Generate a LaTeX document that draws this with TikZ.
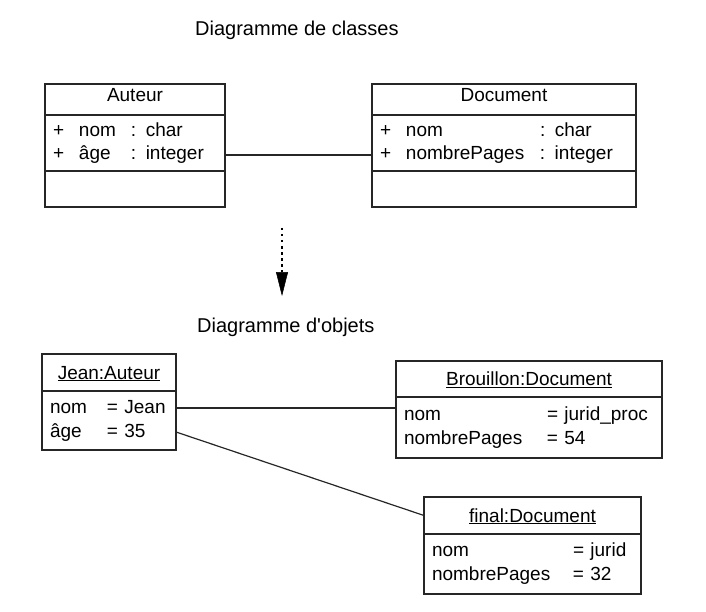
\documentclass[tikz,border=0pt]{standalone}
\usepackage{fontspec}
\setmainfont{Liberation Sans}
\usetikzlibrary{positioning,arrows.meta}

\newcommand{\classrow}[3]{\makebox[26pt][l]{+}\makebox[#1][l]{#2}: #3}
\newcommand{\objrow}[3]{\makebox[#1][l]{#2}= #3}

\tikzstyle{box} = [draw=black!85, line width=1.2pt, rectangle, outer sep=0pt, inner ysep=0pt]
\tikzstyle{classhead} = [box, text height=10pt, text depth=5pt, minimum height=31pt]
\tikzstyle{classattr} = [box, inner xsep=8pt, align=left, minimum height=56pt]
\tikzstyle{classops} = [box, minimum height=36pt]
\tikzstyle{objhead} = [box, text height=18pt, text depth=5pt]
\tikzstyle{objattr} = [box, inner xsep=8pt, align=left, font=\fontsize{19}{24}\selectfont]
\tikzstyle{title} = [anchor=base west, inner sep=0pt, font=\fontsize{20}{24}\selectfont]
\tikzstyle{link} = [line width=1.2pt, draw=black!85]
\tikzstyle{arrow} = [line width=2.5pt, dash pattern=on 2.5pt off 3.5pt, -{Triangle[length=24pt,width=12pt,line width=0.5pt]}]

\begin{document}
\begin{tikzpicture}[x=1pt, y=-1pt, font=\fontsize{19}{23}\selectfont]
\useasboundingbox (0,0) rectangle (706,612);

% Class diagram
\node (title1) [title] at (195,36) {Diagramme de classes};

\node (auteur) [classhead, minimum width=180pt, anchor=north west] at (45,84) {Auteur};
\node (auteurattr) [classattr, text width=164pt, below=0pt of auteur] {\classrow{52pt}{nom}{char}\\ \classrow{52pt}{âge}{integer}};
\node (auteurops) [classops, minimum width=180pt, below=0pt of auteurattr] {};

\node (document) [classhead, minimum width=264pt, anchor=north west] at (372,84) {Document};
\node (documentattr) [classattr, text width=248pt, below=0pt of document] {\classrow{134pt}{nom}{char}\\ \classrow{134pt}{nombrePages}{integer}};
\node (documentops) [classops, minimum width=264pt, below=0pt of documentattr] {};

\draw [link] ([yshift=-12pt]auteurattr.east) coordinate (c1) -- (c1 -| documentattr.west);

% Arrow
\coordinate (arrowtop) at (282,228);
\coordinate (arrowtip) at (282,296);
\draw [arrow] (arrowtop) -- (arrowtip);

% Object diagram
\node (title2) [title] at (197,332) {Diagramme d\textquotesingle objets};

\node (jean) [objhead, minimum width=134pt, minimum height=37pt, anchor=north west] at (42,354) {\underline{Jean:Auteur}};
\node (jeanattr) [objattr, text width=118pt, minimum height=59pt, below=0pt of jean] {\objrow{57pt}{nom}{Jean}\\ \objrow{57pt}{âge}{35}};

\node (brouillon) [objhead, minimum width=266pt, minimum height=36pt, anchor=north west] at (396,361) {\underline{Brouillon:Document}};
\node (brouillonattr) [objattr, text width=250pt, minimum height=61pt, below=0pt of brouillon] {\objrow{143pt}{nom}{jurid\_proc}\\ \objrow{143pt}{nombrePages}{54}};

\node (final) [objhead, minimum width=217pt, minimum height=37pt, anchor=north west] at (424,497) {\underline{final:Document}};
\node (finalattr) [objattr, text width=201pt, minimum height=60pt, below=0pt of final] {\objrow{141pt}{nom}{jurid}\\ \objrow{141pt}{nombrePages}{32}};

% Links
\draw [link] ([yshift=12.5pt]jeanattr.east) coordinate (c2) -- (c2 -| brouillonattr.west);
\draw [link] ([yshift=-11.5pt]jeanattr.east) -- (final.west);

\end{tikzpicture}
\end{document}
